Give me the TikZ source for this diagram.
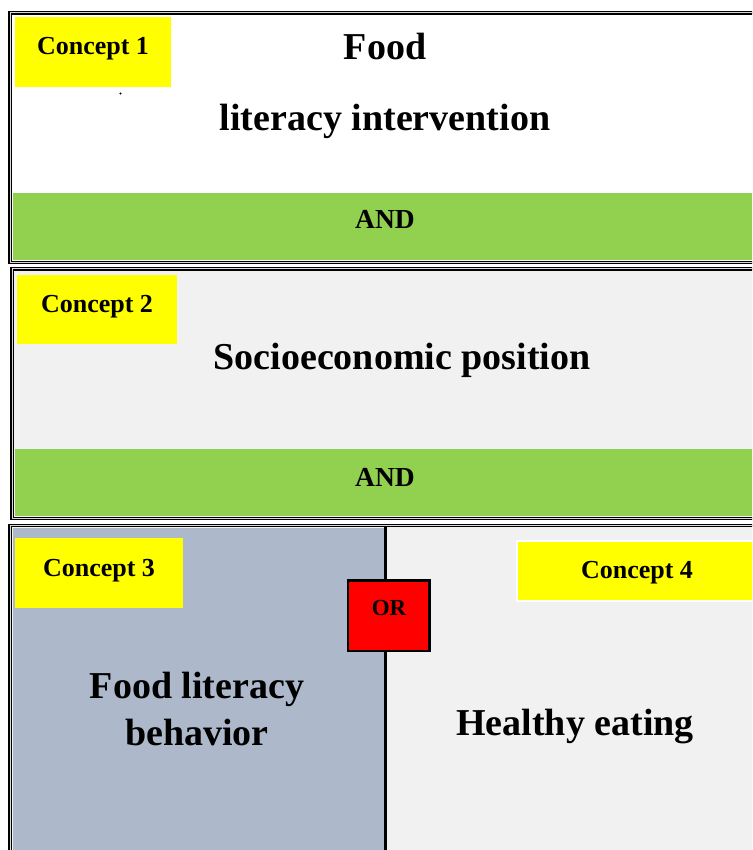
\documentclass[tikz,border=0pt]{standalone}
\usepackage{fontspec}
\setmainfont{Liberation Serif}
\definecolor{andgreen}{HTML}{92D050}
\definecolor{cyellow}{HTML}{FFFF00}
\definecolor{paleGray}{HTML}{F1F1F1}
\definecolor{slateBlue}{HTML}{ADB9CA}
\definecolor{orRed}{HTML}{FF0000}
\begin{document}
\begin{tikzpicture}[x=1pt,y=-1pt,
  frame/.style={draw=black, double=white!85!black, line width=1.5pt, double distance=0.9pt},
  bigtext/.style={font=\bfseries\fontsize{38}{44}\selectfont, anchor=base, inner sep=0pt},
  concepttext/.style={font=\bfseries\fontsize{26}{30}\selectfont, anchor=base, inner sep=0pt},
  andtext/.style={font=\bfseries\fontsize{27.5}{32}\selectfont, anchor=base, inner sep=0pt},
  ortext/.style={font=\bfseries\fontsize{23}{28}\selectfont, anchor=base, inner sep=0pt},
  yellowbox/.style={fill=cyellow},
  greenband/.style={fill=andgreen}]
\useasboundingbox (0,0) rectangle (752,850);
\clip (0,0) rectangle (752,850);
% ---- Concept 1 block
\draw[frame, fill=white] (10,12.8) rectangle (800,262.5);
\fill[greenband] (12.8,193) rectangle (800,260);
\fill[yellowbox] (15,17) rectangle (171,87);
\fill[black] (120.5,93.5) circle (1.1);
\node[concepttext] (c1) at (93,55) {Concept 1};
\node[bigtext] (food) at (385,60) {Food};
\node[bigtext] (litint) at (385,131) {literacy intervention};
\node[andtext] (and1) at (385,229) {AND};
% ---- Concept 2 block
\draw[frame, fill=paleGray] (12,268.8) rectangle (800,518.5);
\fill[greenband] (15,449) rectangle (800,516);
\fill[yellowbox] (17,275) rectangle (177,344);
\node[concepttext] (c2) at (97,312) {Concept 2};
\node[bigtext] (sep) at (402,369) {Socioeconomic position};
\node[andtext] (and2) at (385,486) {AND};
% ---- Concepts 3 & 4 block
\draw[frame, fill=paleGray] (10,525.5) rectangle (800,900);
\fill[slateBlue] (12.8,528) rectangle (385.5,900);
\draw[line width=3pt] (385.5,526) -- (385.5,900);
\fill[yellowbox] (15,538) rectangle (183,608);
\node[concepttext] (c3) at (99,576) {Concept 3};
\draw[yellowbox, draw=white, line width=2.5pt] (517,541) rectangle (800,601);
\node[concepttext] (c4) at (637,578) {Concept 4};
\node[bigtext] (flb1) at (197,698) {Food literacy};
\node[bigtext] (flb2) at (197,745) {behavior};
\node[bigtext] (he) at (575,735) {Healthy eating};
\draw[fill=orRed, line width=2.6pt] (348,580.5) rectangle (429.5,651);
\node[ortext] (or) at (389,615) {OR};
\end{tikzpicture}
\end{document}
